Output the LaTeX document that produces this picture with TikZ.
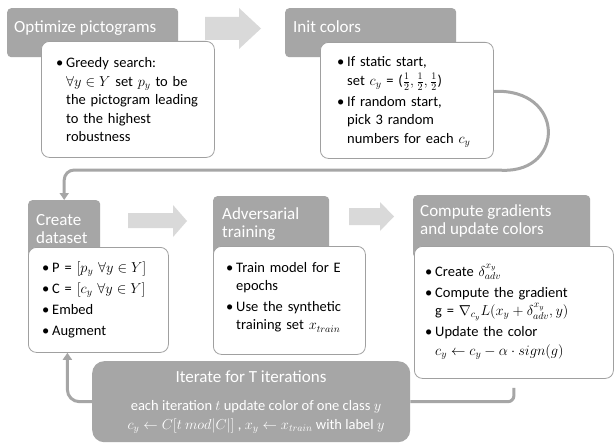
\documentclass[tikz,border=0pt]{standalone}
\usepackage{fontspec}
\setmainfont{Carlito}
\usetikzlibrary{arrows.meta, positioning, calc}
\definecolor{hdrGray}{RGB}{166,166,166}
\definecolor{boxLine}{RGB}{160,160,160}
\definecolor{arrowGray}{RGB}{217,217,217}
\definecolor{linkGray}{RGB}{166,166,166}
\newcommand{\bitem}{\noindent\llap{\hbox to 10pt{\textbullet\hfil}}}

\begin{document}
\begin{tikzpicture}[x=1pt, y=-1pt,
        hdr/.style={rectangle, fill=hdrGray, rounded corners=4pt, anchor=north west, inner sep=0pt},
        body/.style={rectangle, draw=boxLine, fill=white, rounded corners=8pt, anchor=north west, inner sep=0pt, line width=0.8pt},
        title/.style={anchor=base west, inner sep=0pt, text=white, align=left, font=\fontsize{17}{18}\selectfont},
        txt/.style={anchor=base west, inner sep=0pt, font=\fontsize{14.5}{18.5}\selectfont\raggedright\setlength{\parskip}{2.5pt}},
        bigarrow/.style={fill=arrowGray},
        link/.style={draw=linkGray, line width=3pt},
        tip/.style={-{Triangle[width=9pt,length=7pt]}}
    ]
        \useasboundingbox[fill=white] (0,0) rectangle (614,444);

        % Step headers
        \node[hdr, minimum width=171pt, minimum height=49pt] (h1) at (7,8) {};
        \node[hdr, minimum width=171pt, minimum height=49pt] (h2) at (285,8) {};
        \node[hdr, minimum width=72pt, minimum height=58pt] (h3) at (28,200) {};
        \node[hdr, minimum width=116pt, minimum height=62pt] (h4) at (213,196) {};
        \node[hdr, minimum width=177pt, minimum height=63pt] (h5) at (413,195) {};

        \node[title] (t1) at (14,33) {Optimize pictograms};
        \node[title] (t2) at (293,33) {Init colors};
        \node[title] (t3) at (36,243) {Create\\dataset};
        \node[title] (t4) at (222,237) {Adversarial\\training};
        \node[title] (t5) at (420,234) {Compute gradients\\and update colors};

        % Step bodies
        \node[body, minimum width=173pt, minimum height=116pt] (b1) at (41,41) {};
        \node[body, minimum width=173pt, minimum height=116pt] (b2) at (320,42) {};
        \node[body, minimum width=140pt, minimum height=105pt] (b3) at (28,247) {};
        \node[body, minimum width=152pt, minimum height=108pt] (b4) at (213,246) {};
        \node[body, minimum width=199pt, minimum height=132pt] (b5) at (414,246) {};

        \node[txt, text width=140pt] (x1) at (66,68) {\bitem Greedy search:\newline $\forall y \in Y$ set $p_y$ to be\newline the pictogram leading\newline to the highest\newline robustness};
        \node[txt, text width=140pt] (x2) at (347,67) {\bitem If static start,\newline set $c_y$ = ($\frac{1}{2},\frac{1}{2},\frac{1}{2}$)\par
            \bitem If random start,\newline pick 3 random\newline numbers for each $c_y$};
        \node[txt, text width=115pt] (x3) at (52,272) {\bitem P = $[p_y\ \forall y \in Y]$\par
            \bitem C = $[c_y\ \forall y \in Y]$\par
            \bitem Embed\par
            \bitem Augment};
        \node[txt, text width=130pt] (x4) at (236,272) {\bitem Train model for E\newline epochs\par
            \bitem Use the synthetic\newline training set $x_{train}$};
        \node[txt, text width=175pt] (x5) at (435,276) {\bitem Create $\delta_{adv}^{x_y}$\par
            \bitem Compute the gradient\newline g = $\nabla_{c_y} L(x_y + \delta_{adv}^{x_y}, y)$\par
            \bitem Update the color\newline $c_y \leftarrow c_y - \alpha \cdot sign(g)$};

        % Block arrows
        \fill[bigarrow] (205,17) -- (239,17) -- (239,8) -- (261,28.5) -- (239,49) -- (239,40) -- (205,40) -- cycle;
        \fill[bigarrow] (128,213) -- (173,213) -- (173,205) -- (187,221) -- (173,237) -- (173,228) -- (128,228) -- cycle;
        \fill[bigarrow] (349,208) -- (380,208) -- (380,202) -- (394,216.5) -- (380,231) -- (380,225) -- (349,225) -- cycle;

        % Iteration box
        \node[hdr, rounded corners=12pt, minimum width=318pt, minimum height=81pt] (iter) at (92,361) {};
        \node[anchor=base, inner sep=0pt, text=white, font=\fontsize{17}{18}\selectfont] (it1) at (251,382) {Iterate for T iterations};
        \node[anchor=base, inner sep=0pt, text=white, align=center, font=\fontsize{14.5}{19}\selectfont] (it2) at (256,429) {each iteration $t$ update color of one class $y$\\ $c_y \leftarrow C[t\ mod|C|]$ , $x_y \leftarrow x_{train}$ with label $y$};

        % Connectors
        \coordinate (ret) at (493,170);
        \draw[link, tip, rounded corners=10pt] ([yshift=9pt]b2.east) .. controls (565,88) and (565,172) .. (ret) -| (h3.north);
        \draw[link, rounded corners=6pt] ([yshift=-9pt]b5.south) |- (iter.east);
        \draw[link, tip, rounded corners=12pt] (iter.west) -| ([xshift=-31pt]b3.south);
    \end{tikzpicture}
\end{document}
